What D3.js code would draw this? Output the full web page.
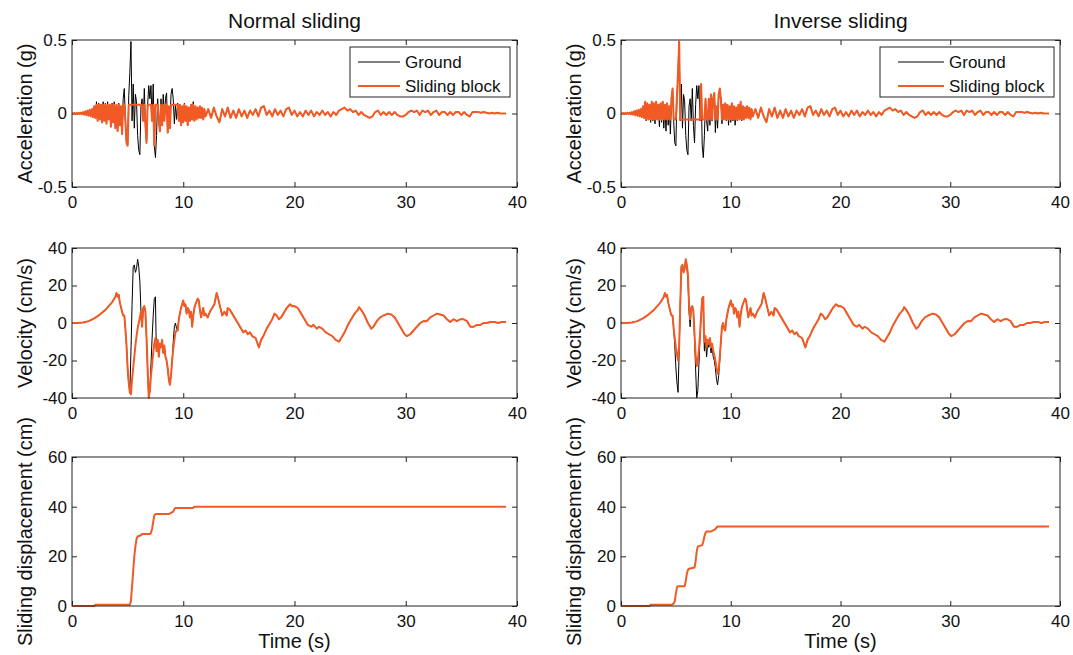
<!DOCTYPE html>
<html>
<head>
<meta charset="utf-8">
<script src="https://cdn.jsdelivr.net/npm/d3@7"></script>
<style>
  body { margin: 0; background: #fff; }
  svg { font-family: "Liberation Sans", Arial, Helvetica, sans-serif; }
  .tick text { font-size: 17px; fill: #111; }
  .tick line { stroke: #222; }
</style>
</head>
<body>
<svg id="chart" width="1073" height="655"></svg>
<script>
const orange = "#f15a24";

// acceleration sampled every 0.1 s up to 12 s, then every 0.25 s
const accStrongT = d3.range(121).map(i => i / 10);
const accTailT = d3.range(108).map(i => 12.25 + i * 0.25);
const accT = accStrongT.concat(accTailT);

const groundAccStrong = [
  0, 0, 0.003, -0.002, 0.004, -0.003, 0.005, -0.004, 0.006, -0.005,
  0.01, -0.008, 0.015, -0.012, 0.02, -0.015, 0.025, -0.02, 0.03, -0.025,
  0.05, -0.03, 0.08, -0.05, 0.07, -0.04, 0.06, -0.06, 0.08, -0.05,
  0.07, -0.07, 0.08, -0.04, 0.06, -0.09, 0.07, -0.06, 0.08, -0.1,
  0.06, -0.12, 0.07, -0.08, 0.05, -0.14, 0.1, 0.17, -0.05, -0.2,
  -0.22, 0.12, 0.28, 0.49, -0.05, 0.2, -0.1, 0.13, 0.08, -0.15,
  -0.25, -0.28, 0.05, 0.1, -0.05, 0.17, -0.08, -0.2, 0.06, 0.19,
  0.1, 0.19, -0.05, 0.2, -0.22, -0.3, -0.15, 0.1, -0.05, -0.12,
  0.1, -0.08, 0.13, -0.05, 0.1, 0.14, -0.13, 0.05, -0.1, 0.13,
  0.17, 0.1, -0.07, 0.06, -0.04, 0.07, -0.05, 0.06, -0.08, 0.05,
  -0.06, 0.07, -0.05, 0.05, -0.08, 0.04, -0.05, 0.06, -0.04, 0.08,
  -0.05, 0.05, -0.04, 0.04, -0.03, 0.05, -0.03, 0.04, -0.04, 0.03, -0.02
];

const normalBlockAccStrong = [
  0, 0, 0.003, -0.002, 0.004, -0.003, 0.005, -0.004, 0.006, -0.005,
  0.01, -0.008, 0.015, -0.012, 0.02, -0.015, 0.025, -0.02, 0.03, -0.025,
  0.05, -0.03, 0.06, -0.05, 0.06, -0.04, 0.06, -0.06, 0.06, -0.05,
  0.06, -0.07, 0.06, -0.04, 0.06, -0.09, 0.06, -0.06, 0.06, -0.1,
  0.06, -0.12, 0.06, -0.08, 0.05, -0.14, 0.06, 0.06, -0.05, -0.2,
  -0.22, 0.06, 0.06, 0.06, 0.06, 0.06, 0.06, 0.06, 0.06, 0.06,
  0.06, 0.06, 0.05, 0.06, -0.05, 0.06, -0.08, -0.2, 0.06, 0.06,
  0.06, 0.06, -0.05, 0.06, -0.22, 0.06, 0.06, 0.06, -0.05, -0.12,
  0.06, -0.08, 0.06, -0.05, 0.06, 0.06, -0.13, 0.05, -0.1, 0.06,
  0.06, 0.06, 0.06, 0.06, 0.06, 0.06, -0.05, 0.06, -0.08, 0.05,
  -0.06, 0.06, -0.05, 0.05, -0.08, 0.04, -0.05, 0.06, -0.04, 0.06,
  -0.05, 0.05, -0.04, 0.04, -0.03, 0.05, -0.03, 0.04, -0.04, 0.03, -0.02
];

const inverseBlockAccStrong = [
  0, 0, 0.003, -0.002, 0.004, -0.003, 0.005, -0.004, 0.006, -0.005,
  0.01, -0.008, 0.015, -0.012, 0.02, -0.015, 0.025, -0.02, 0.03, -0.025,
  0.05, -0.03, 0.08, -0.04, 0.07, -0.04, 0.06, -0.04, 0.08, -0.04,
  0.07, -0.04, 0.08, -0.04, 0.06, -0.04, 0.07, -0.04, 0.08, -0.04,
  0.06, -0.04, 0.07, -0.04, 0.05, -0.04, 0.1, 0.17, -0.04, -0.04,
  -0.04, 0.12, 0.28, 0.49, -0.04, -0.04, -0.04, -0.04, -0.04, -0.04,
  -0.04, -0.04, -0.04, -0.04, -0.04, -0.04, -0.04, -0.04, -0.04, -0.04,
  -0.04, -0.04, -0.04, 0.2, -0.04, -0.04, -0.04, 0.1, -0.04, -0.04,
  0.1, -0.04, 0.13, -0.04, 0.1, 0.14, -0.04, 0.05, -0.04, 0.13,
  0.17, 0.1, -0.04, 0.06, -0.04, 0.07, -0.04, 0.06, -0.04, 0.05,
  -0.04, 0.07, -0.04, 0.05, -0.04, 0.04, -0.04, 0.06, -0.04, 0.08,
  -0.04, 0.05, -0.04, 0.04, -0.03, 0.05, -0.03, 0.04, -0.04, 0.03, -0.02
];

// after 12 s the block moves with the ground
const accTail = [
  0.03, -0.03, 0.04, -0.02,
  -0.06, 0.03, -0.02, 0.04,
  -0.03, 0.02, -0.03, 0.03,
  -0.02, 0.02, -0.03, 0.02,
  -0.01, 0.03, -0.02, 0.04,
  0.05, -0.01, 0.02, -0.02,
  0.03, -0.01, 0.02, -0.02,
  0.03, 0.04, -0.01, 0.02,
  -0.02, 0.01, -0.02, 0.02,
  -0.01, 0.02, -0.02, 0.01,
  -0.01, 0.02, -0.01, 0.01,
  -0.02, 0.01, -0.01, 0.02,
  0.03, 0.04, 0.02, 0.03,
  0.01, 0.02, -0.01, 0.01,
  -0.01, -0.02, -0.03, -0.02,
  0.01, 0.02, -0.01, 0.01,
  -0.01, 0.01, -0.01, 0.01,
  -0.01, -0.02, -0.02, -0.01,
  0.01, 0.02, 0.01, 0.02,
  -0.01, 0.02, 0.01, 0.02,
  -0.01, 0.01, 0.02, -0.01,
  0.01, 0.01, -0.01, 0.01,
  -0.01, 0.01, 0.01, -0.01,
  0.01, -0.01, -0.02, 0.01,
  0.01, 0.01, 0.005, 0.01,
  0.005, 0, 0.005, 0,
  0.005, 0, 0, 0
];

const groundAcc = groundAccStrong.concat(accTail);
const normalBlockAcc = normalBlockAccStrong.concat(accTail);
const inverseBlockAcc = inverseBlockAccStrong.concat(accTail);

// velocity [t (s), v (cm/s)]
const groundVel = [
  [0, 0], [0.5, 0], [1, 0.3], [1.5, 1], [2, 2.5], [2.5, 4.5], [3, 7], [3.3, 9], [3.6, 11], [3.9, 14],
  [4.0, 16], [4.1, 14], [4.2, 15], [4.3, 11], [4.5, 6], [4.6, 4], [4.7, 4], [4.8, -3], [4.9, -12], [5.0, -24],
  [5.1, -32], [5.2, -37], [5.3, -15], [5.4, 10], [5.5, 30], [5.6, 31], [5.7, 27], [5.8, 29], [5.9, 34], [6.0, 30],
  [6.1, 22], [6.2, 6], [6.3, -2], [6.4, 8], [6.5, 9], [6.6, 6], [6.7, -8], [6.8, -25], [6.9, -40], [7.0, -36],
  [7.1, -22], [7.2, -8], [7.3, 4], [7.4, 13], [7.5, 14], [7.55, -5], [7.6, -15], [7.7, -9], [7.8, -18], [7.9, -11],
  [8.0, -13], [8.1, -9], [8.2, -16], [8.3, -12], [8.4, -18], [8.5, -20], [8.6, -24], [8.7, -30], [8.8, -33], [8.9, -28],
  [9.0, -20], [9.1, -10], [9.2, -2], [9.3, 0], [9.4, -3], [9.5, -4], [9.6, 2], [9.8, 8], [9.9, 10], [10.0, 12],
  [10.1, 9], [10.2, 10], [10.3, 5], [10.4, 8], [10.5, 7], [10.6, 3], [10.7, 6], [10.8, -2], [10.9, 4], [11.0, 8],
  [11.1, 10], [11.3, 13], [11.4, 12], [11.5, 7], [11.6, 3], [11.8, 8], [11.9, 4], [12.0, 5], [12.2, 3], [12.4, 6],
  [12.6, 8], [12.8, 10], [13.0, 16], [13.1, 14], [13.3, 9], [13.5, 4], [13.7, 6], [13.9, 4], [14.0, 8], [14.2, 7],
  [14.4, 5], [14.6, 3], [14.8, 1], [15.0, -1], [15.2, -3], [15.4, -5], [15.6, -4], [15.8, -6], [16.0, -5], [16.2, -7],
  [16.5, -8], [16.8, -13], [17.0, -9], [17.2, -7], [17.5, -3], [17.8, 0], [18.0, 2], [18.2, 5], [18.4, 4], [18.6, 2],
  [18.8, 3], [19.0, 5], [19.3, 8], [19.6, 10], [19.8, 9], [20.0, 9], [20.3, 8], [20.6, 5], [20.9, 2], [21.2, -1],
  [21.5, -2], [21.7, -1], [22.0, -3], [22.2, -2], [22.5, -3], [22.8, -5], [23.1, -6], [23.4, -7], [23.7, -9], [24.0, -10],
  [24.2, -8], [24.5, -5], [24.8, -1], [25.1, 2], [25.4, 5], [25.7, 7], [25.8, 8.5], [26.0, 7], [26.3, 4], [26.6, 0],
  [26.9, -3], [27.1, -2], [27.4, 1], [27.7, 3], [28.0, 4], [28.4, 5], [28.7, 4.5], [29.0, 3], [29.3, 0], [29.6, -3],
  [29.9, -6], [30.1, -7], [30.4, -6], [30.7, -4], [31.0, -2], [31.3, 0], [31.6, 1], [31.9, 1], [32.2, 3], [32.5, 4],
  [32.8, 5], [33.1, 4.5], [33.4, 4], [33.7, 2], [34.0, 0.5], [34.3, 2], [34.6, 1], [34.9, 2], [35.2, 2], [35.5, 1],
  [35.8, -2], [36.1, -2], [36.4, -1], [36.7, -1], [37.0, 0], [37.3, 0], [37.6, 0.5], [38.0, 0.5], [38.3, 0], [38.6, 0.5],
  [39.0, 0.5]
];

// block velocity while it slides (elsewhere it equals the ground)
const normalSlideVel = [
  [5.3, -38], [5.4, -30], [5.5, -24], [5.6, -18], [5.7, -12], [5.8, -7], [5.9, -3], [6.0, 0], [6.1, 3], [6.2, 6],
  [6.3, -2], [6.4, 8], [6.5, 9], [6.6, 6], [6.7, -8], [6.8, -25], [6.9, -40], [7.0, -36], [7.1, -28], [7.2, -22],
  [7.3, -16], [7.4, -11], [7.5, -8], [7.6, -15], [7.7, -9], [7.8, -18], [7.9, -11], [8.0, -13], [8.1, -9], [8.2, -16],
  [8.3, -12], [8.4, -18], [8.5, -20], [8.6, -24], [8.7, -30], [8.8, -33], [8.9, -28], [9.0, -20], [9.1, -14], [9.2, -9],
  [9.3, -5], [9.4, -4], [9.5, -4], [9.6, 2]
];
const inverseSlideVel = [
  [4.8, -3], [4.9, -8], [5.0, -13], [5.1, -17], [5.2, -20], [5.3, -12], [5.4, 10], [5.5, 30], [5.6, 31], [5.7, 27],
  [5.8, 29], [5.9, 34], [6.0, 31], [6.1, 26], [6.2, 10], [6.3, 2], [6.4, 8], [6.5, 9], [6.6, 6], [6.7, -6],
  [6.8, -17], [6.9, -23], [7.0, -20], [7.1, -14], [7.2, -6], [7.3, 4], [7.4, 13], [7.5, 14], [7.55, -3], [7.6, -10],
  [7.7, -7], [7.8, -13], [7.9, -9], [8.0, -11], [8.1, -8], [8.2, -13], [8.3, -11], [8.4, -15], [8.5, -17], [8.6, -20],
  [8.7, -24], [8.8, -27], [8.9, -25], [9.0, -18], [9.1, -10]
];

function withSlide(slide) {
  const t0 = slide[0][0], t1 = slide[slide.length - 1][0];
  return groundVel.filter(d => d[0] < t0).concat(slide, groundVel.filter(d => d[0] > t1));
}
const normalBlockVel = withSlide(normalSlideVel);
const inverseBlockVel = withSlide(inverseSlideVel);

// sliding displacement [t (s), d (cm)]
const normalDisp = [
  [0, 0], [2.0, 0], [2.1, 0.5], [5.2, 0.5], [5.3, 2], [5.4, 8], [5.5, 14], [5.6, 20], [5.7, 24], [5.8, 27],
  [5.9, 28], [6.2, 28.5], [6.3, 29], [7.0, 29], [7.1, 29.5], [7.2, 31], [7.3, 34], [7.4, 36.5], [7.5, 37], [8.7, 37],
  [8.9, 37.5], [9.1, 38], [9.2, 39], [9.3, 39.5], [10.9, 39.5], [11.0, 40], [39, 40]
];
const inverseDisp = [
  [0, 0], [2.6, 0], [2.7, 0.5], [4.6, 0.5], [4.8, 1], [4.9, 2], [5.0, 5], [5.1, 7.5], [5.2, 8], [5.8, 8],
  [5.9, 10], [6.0, 13], [6.1, 14.5], [6.2, 15], [6.7, 15.5], [6.8, 18], [6.9, 22], [7.0, 24], [7.4, 24.5], [7.5, 26],
  [7.6, 28], [7.7, 29.5], [7.8, 30], [8.2, 30], [8.4, 30.5], [8.6, 31], [8.8, 32], [39, 32]
];

const timeTicks = [0, 10, 20, 30, 40];
const accTicks = [-0.5, 0, 0.5];
const velTicks = [-40, -20, 0, 20, 40];
const dispTicks = [0, 20, 40, 60];
const legendLabels = ["Ground", "Sliding block"];

const zip = (t, v) => t.map((d, i) => [d, v[i]]);

const columns = [
  { title: "Normal sliding", x0: 72, x1: 517, legend: { x: 350, w: 160, l0: 8, l1: 50 },
    ground: [zip(accT, groundAcc), groundVel], block: [zip(accT, normalBlockAcc), normalBlockVel, normalDisp] },
  { title: "Inverse sliding", x0: 621, x1: 1060, legend: { x: 880, w: 174, l0: 18, l1: 64 },
    ground: [zip(accT, groundAcc), groundVel], block: [zip(accT, inverseBlockAcc), inverseBlockVel, inverseDisp] }
];

const rows = [
  { y0: 40, y1: 187, domain: [-0.5, 0.5], ticks: accTicks, label: "Acceleration (g)" },
  { y0: 248, y1: 398, domain: [-40, 40], ticks: velTicks, label: "Velocity (cm/s)" },
  { y0: 457, y1: 606, domain: [0, 60], ticks: dispTicks, label: "Sliding displacement (cm)" }
];

const svg = d3.select("#chart");

columns.forEach(col => {
  svg.append("text")
    .attr("x", (col.x0 + col.x1) / 2).attr("y", 28)
    .attr("text-anchor", "middle").attr("font-size", 21).attr("fill", "#111")
    .text(col.title);

  rows.forEach((row, ri) => {
    const x = d3.scaleLinear().domain([0, 40]).range([col.x0, col.x1]);
    const y = d3.scaleLinear().domain(row.domain).range([row.y1, row.y0]);
    const g = svg.append("g");

    // ticks point inward on all four sides
    g.append("g").attr("transform", `translate(0,${row.y1})`)
      .call(d3.axisBottom(x).tickValues(timeTicks).tickSize(-5).tickPadding(9).tickFormat(d3.format("d")));
    g.append("g").attr("transform", `translate(0,${row.y0})`)
      .call(d3.axisTop(x).tickValues(timeTicks).tickSize(-5).tickFormat(""));
    g.append("g").attr("transform", `translate(${col.x0},0)`)
      .call(d3.axisLeft(y).tickValues(row.ticks).tickSize(-5).tickPadding(5).tickFormat(d => String(d)));
    g.append("g").attr("transform", `translate(${col.x1},0)`)
      .call(d3.axisRight(y).tickValues(row.ticks).tickSize(-5).tickFormat(""));
    g.selectAll(".domain").remove();

    const line = d3.line().x(d => x(d[0])).y(d => y(d[1]));

    if (col.ground[ri]) {
      g.append("path").datum(col.ground[ri])
        .attr("fill", "none").attr("stroke", "#000").attr("stroke-width", 1)
        .attr("d", line);
    }
    g.append("path").datum(col.block[ri])
      .attr("fill", "none").attr("stroke", orange).attr("stroke-width", 2)
      .attr("stroke-linejoin", "round")
      .attr("d", line);

    g.append("rect")
      .attr("x", col.x0).attr("y", row.y0)
      .attr("width", col.x1 - col.x0).attr("height", row.y1 - row.y0)
      .attr("fill", "none").attr("stroke", "#222").attr("stroke-width", 1);

    g.append("text")
      .attr("transform", `translate(${col.x0 - 47},${(row.y0 + row.y1) / 2}) rotate(-90)`)
      .attr("text-anchor", "middle").attr("dy", "0.35em")
      .attr("font-size", 20).attr("fill", "#111")
      .text(row.label);

    if (ri === 0) {
      const L = col.legend;
      const lg = g.append("g");
      lg.append("rect")
        .attr("x", L.x).attr("y", 47).attr("width", L.w).attr("height", 50)
        .attr("fill", "#fff").attr("stroke", "#222");
      [["#000", 1], [orange, 2]].forEach((s, i) => {
        const yy = 62 + i * 24;
        lg.append("line")
          .attr("x1", L.x + L.l0).attr("x2", L.x + L.l1).attr("y1", yy).attr("y2", yy)
          .attr("stroke", s[0]).attr("stroke-width", s[1]);
        lg.append("text")
          .attr("x", L.x + L.l1 + 5).attr("y", yy).attr("dy", "0.35em")
          .attr("font-size", 17).attr("fill", "#111")
          .text(legendLabels[i]);
      });
    }
  });

  svg.append("text")
    .attr("x", (col.x0 + col.x1) / 2).attr("y", 648)
    .attr("text-anchor", "middle").attr("font-size", 20).attr("fill", "#111")
    .text("Time (s)");
});
</script>
</body>
</html>
